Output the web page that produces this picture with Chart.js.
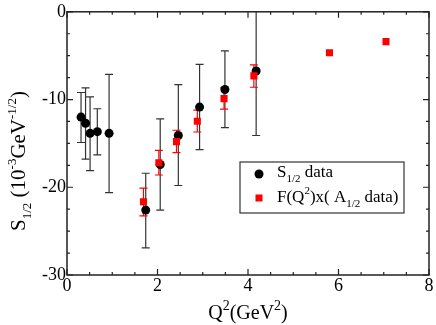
<!DOCTYPE html>
<html>
<head>
<meta charset="utf-8">
<script src="https://cdn.jsdelivr.net/npm/chart.js@4.4.0/dist/chart.umd.min.js"></script>
<style>
  body { margin: 0; background: #fff; }
  canvas { display: block; }
</style>
</head>
<body>
<canvas id="c" width="436" height="325"></canvas>
<script>
// S_1/2 data (black circles) with error bar bounds
const sQ2  = [0.31, 0.41, 0.51, 0.67, 0.93, 1.74, 2.06, 2.46, 2.93, 3.49, 4.18];
const sVal = [-12.0, -12.7, -13.85, -13.66, -13.85, -22.6, -17.4, -14.1, -10.86, -8.85, -6.75];
const sLo  = [-14.9, -16.8, -18.1, -16.3, -20.6, -26.9, -22.6, -19.8, -15.7, -13.2, -14.1];
const sHi  = [-9.2, -8.66, -9.7, -11.05, -7.13, -18.4, -12.2, -8.3, -6.0, -4.45, 0.6];

// F(Q^2) x (A_1/2 data) (red squares)
const fQ2  = [1.69, 2.03, 2.42, 2.88, 3.47, 4.13, 5.8, 7.05];
const fVal = [-21.65, -17.2, -14.8, -12.47, -9.9, -7.3, -4.67, -3.4];
const fLo  = [-23.25, -18.6, -16.05, -13.7, -11.1, -8.6, null, null];
const fHi  = [-20.1, -15.8, -13.5, -11.2, -8.66, -6.05, null, null];

const xTicks = [0, 2, 4, 6, 8];
const yTicks = [-30, -20, -10, 0];

const SERIF = "'Liberation Serif', 'Times New Roman', serif";

// draw text with sub/superscript pieces: [[text, ''|'sub'|'sup'], ...]
function richText(ctx, parts, x, y, size, align, ratio) {
  const small = Math.round(size * (ratio || 0.65));
  let w = 0;
  parts.forEach(p => {
    ctx.font = (p[1] ? small : size) + 'px ' + SERIF;
    w += ctx.measureText(p[0]).width;
  });
  let cx = align === 'center' ? x - w / 2 : x;
  ctx.textAlign = 'left';
  ctx.textBaseline = 'alphabetic';
  parts.forEach(p => {
    ctx.font = (p[1] ? small : size) + 'px ' + SERIF;
    let dy = 0;
    if (p[1] === 'sub') dy = size * 0.3;
    if (p[1] === 'sup') dy = -size * 0.45;
    ctx.fillText(p[0], cx, y + dy);
    cx += ctx.measureText(p[0]).width;
  });
}

const errorBars = {
  id: 'errorBars',
  beforeDatasetsDraw(chart) {
    const ctx = chart.ctx, xs = chart.scales.x, ys = chart.scales.y, a = chart.chartArea;
    ctx.save();
    ctx.beginPath();
    ctx.rect(a.left, a.top, a.right - a.left, a.bottom - a.top);
    ctx.clip();
    const draw = (xv, lo, hi, color) => {
      ctx.strokeStyle = color;
      ctx.lineWidth = 1.2;
      xv.forEach((q, i) => {
        if (lo[i] == null) return;
        const px = xs.getPixelForValue(q);
        const p1 = ys.getPixelForValue(lo[i]);
        const p2 = ys.getPixelForValue(hi[i]);
        ctx.beginPath();
        ctx.moveTo(px, p1); ctx.lineTo(px, p2);
        ctx.moveTo(px - 4, p1); ctx.lineTo(px + 4, p1);
        ctx.moveTo(px - 4, p2); ctx.lineTo(px + 4, p2);
        ctx.stroke();
      });
    };
    draw(sQ2, sLo, sHi, '#333');
    draw(fQ2, fLo, fHi, '#f00');
    ctx.restore();
  }
};

const frame = {
  id: 'frame',
  afterDraw(chart) {
    const ctx = chart.ctx, xs = chart.scales.x, ys = chart.scales.y, a = chart.chartArea;
    ctx.save();
    ctx.strokeStyle = '#222';
    ctx.lineWidth = 1.5;
    ctx.strokeRect(a.left, a.top, a.right - a.left, a.bottom - a.top);
    ctx.lineWidth = 1.2;
    ctx.beginPath();
    for (let v = 0; v <= 8; v += 0.5) {
      const px = xs.getPixelForValue(v);
      const len = v % 2 === 0 ? 6 : 3;
      ctx.moveTo(px, a.bottom); ctx.lineTo(px, a.bottom - len);
      ctx.moveTo(px, a.top); ctx.lineTo(px, a.top + len);
    }
    for (let v = -30; v <= 0; v += 2.5) {
      const py = ys.getPixelForValue(v);
      const len = v % 10 === 0 ? 6 : 3;
      ctx.moveTo(a.left, py); ctx.lineTo(a.left + len, py);
      ctx.moveTo(a.right, py); ctx.lineTo(a.right - len, py);
    }
    ctx.stroke();

    // axis titles
    ctx.fillStyle = '#000';
    richText(ctx, [['Q', ''], ['2', 'sup'], ['(GeV', ''], ['2', 'sup'], [')', '']],
      248, 319, 20, 'center', 0.7);
    ctx.save();
    ctx.translate(25, 161);
    ctx.rotate(-Math.PI / 2);
    richText(ctx, [['S', ''], ['1/2', 'sub'], [' (10', ''], ['-3', 'sup'], ['GeV', ''], ['-1/2', 'sup'], [')', '']],
      0, 0, 21, 'center', 0.6);
    ctx.restore();

    // legend
    const lx = 240, ly = 162, lw = 164, lh = 51;
    ctx.fillStyle = '#fff';
    ctx.fillRect(lx, ly, lw, lh);
    ctx.strokeStyle = '#333';
    ctx.lineWidth = 1.2;
    ctx.strokeRect(lx, ly, lw, lh);
    ctx.fillStyle = '#000';
    ctx.beginPath();
    ctx.arc(259, 174, 4.5, 0, Math.PI * 2);
    ctx.fill();
    ctx.fillStyle = '#f00';
    ctx.fillRect(255.5, 194.5, 7, 7);
    ctx.fillStyle = '#000';
    richText(ctx, [['S', ''], ['1/2', 'sub'], [' data', '']], 277, 177, 17, 'left', 0.62);
    richText(ctx, [['F(Q', ''], ['2', 'sup'], [')x( A', ''], ['1/2', 'sub'], [' data)', '']], 277, 202, 17, 'left', 0.62);
    ctx.restore();
  }
};

new Chart(document.getElementById('c'), {
  type: 'scatter',
  data: {
    datasets: [
      {
        label: 'F(Q2)x( A1/2 data)',
        data: fQ2.map((q, i) => ({ x: q, y: fVal[i] })),
        pointStyle: 'rect',
        pointRadius: 5,
        backgroundColor: '#f00',
        borderColor: '#f00',
        borderWidth: 0,
        order: 0
      },
      {
        label: 'S1/2 data',
        data: sQ2.map((q, i) => ({ x: q, y: sVal[i] })),
        pointStyle: 'circle',
        pointRadius: 4.5,
        backgroundColor: '#000',
        borderColor: '#000',
        borderWidth: 0,
        order: 1
      }
    ]
  },
  options: {
    responsive: false,
    animation: false,
    events: [],
    layout: { padding: { left: 0, top: 7, right: 7, bottom: 0 } },
    plugins: { legend: { display: false }, tooltip: { enabled: false } },
    scales: {
      x: {
        type: 'linear', min: 0, max: 8,
        afterFit(s) { s.height = 50; },
        afterBuildTicks(s) { s.ticks = xTicks.map(v => ({ value: v })); },
        grid: { display: false, drawTicks: false },
        border: { display: false },
        ticks: { color: '#000', padding: 0, font: { family: SERIF, size: 18 } }
      },
      y: {
        type: 'linear', min: -30, max: 0,
        afterFit(s) { s.width = 67; },
        afterBuildTicks(s) { s.ticks = yTicks.map(v => ({ value: v })); },
        grid: { display: false, drawTicks: false },
        border: { display: false },
        ticks: { color: '#000', padding: 1, font: { family: SERIF, size: 18 } }
      }
    }
  },
  plugins: [errorBars, frame]
});
</script>
</body>
</html>
